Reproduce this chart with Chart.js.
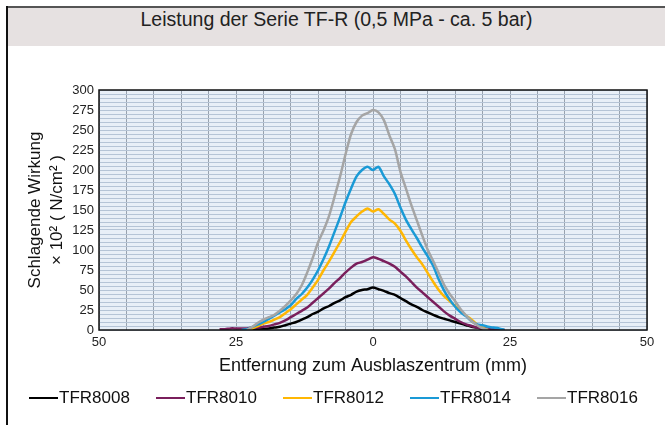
<!DOCTYPE html>
<html>
<head>
<meta charset="utf-8">
<script src="https://cdn.jsdelivr.net/npm/chart.js@4.4.1/dist/chart.umd.min.js"></script>
<style>
  body { margin: 0; background: #fff; }
  #box { position: absolute; left: 0; top: 0; width: 665px; height: 425px; overflow: hidden; }
  #leftLine { position: absolute; left: 6px; top: 6px; width: 2px; height: 419px; background: #111; }
  #topLine { position: absolute; left: 6px; top: 6px; width: 659px; height: 2px; background: #555; }
  #band {
    position: absolute; left: 8px; top: 8px; width: 657px; height: 38px;
    background: #e6e1e1; color: #222; text-align: center; line-height: 38px;
    font: 19.5px "Liberation Sans", Arial, sans-serif;
  }
  #chart { position: absolute; left: 0; top: 0; }
</style>
</head>
<body>
<div id="box">
  <div id="band">Leistung der Serie TF-R (0,5 MPa - ca. 5 bar)</div>
  <div id="topLine"></div>
  <div id="leftLine"></div>
  <canvas id="chart" width="665" height="425"></canvas>
</div>
<script>
// Abstand zum Ausblaszentrum (mm), gemeinsame x-Werte
var distances = [
  -28, -27, -26, -25, -24, -23, -22, -21, -20, -19, -18, -17, -16, -15, -14,
  -13, -12, -11, -10, -9, -8, -7, -6, -5, -4, -3, -2, -1, 0, 1, 2, 3, 4, 5,
  6, 7, 8, 9, 10, 11, 12, 13, 14, 15, 16, 17, 18, 19, 20, 21, 22, 23, 24
];

var seriesNames = ["TFR8008", "TFR8010", "TFR8012", "TFR8014", "TFR8016"];
var seriesColors = ["#000000", "#7a1f5c", "#ffb703", "#1a9ad6", "#a5a5a5"];

var tfr8008 = [
  null, null, null, null, null, null,
  0, 1, 1, 2, 3, 4, 6, 8, 10, 13, 16, 20, 23, 27, 30, 34, 37, 41, 44, 48, 50, 51,
  53, 51, 49, 46, 44, 40, 36, 32, 29, 25, 22, 19, 16, 14, 12, 10, 8, 6, 4, 3, 1, 0,
  null, null, null
];
var tfr8010 = [
  1, 1, 2, 2, 2, 2, 3, 3, 4, 5, 7, 9, 12, 16, 20, 24, 28, 34, 40, 46, 52, 59, 65,
  72, 78, 83, 85, 88, 91, 89, 86, 83, 79, 73, 67, 60, 53, 47, 41, 35, 29, 23, 18,
  14, 10, 7, 5, 3, 2, 2, 1, 1, 0
];
var tfr8012 = [
  null, null, null, null, null,
  0, 2, 5, 8, 10, 13, 16, 21, 26, 32, 38, 44, 53, 63, 75, 86, 98, 110, 123, 135,
  142, 148, 152, 148, 151, 145, 138, 133, 124, 112, 101, 91, 82, 71, 60, 50, 42,
  36, 30, 24, 18, 13, 7, 3, 0,
  null, null, null
];
var tfr8014 = [
  null, null, null, null,
  0, 1, 4, 7, 10, 14, 18, 22, 26, 31, 39, 45, 53, 63, 75, 89, 105, 123, 141, 160,
  177, 192, 200, 204, 200, 204, 192, 182, 170, 153, 138, 126, 115, 103, 92, 80,
  63, 49, 38, 29, 22, 17, 11, 7, 6, 4, 3, 2, 0
];
var tfr8016 = [
  null, null, null, null, null,
  0, 4, 9, 13, 16, 19, 24, 30, 37, 45, 56, 72, 90, 110, 125, 143, 167, 192, 220,
  245, 260, 268, 271, 275, 272, 262, 243, 226, 198, 177, 156, 137, 118, 100, 86,
  71, 56, 45, 36, 26, 18, 11, 6, 2, 0,
  null, null, null
];

var xTickValues = [-50, -25, 0, 25, 50];
var yTickValues = [0, 25, 50, 75, 100, 125, 150, 175, 200, 225, 250, 275, 300];

function toPoints(values) {
  var pts = [];
  for (var i = 0; i < distances.length; i++) {
    if (values[i] !== null) pts.push({ x: distances[i], y: values[i] });
  }
  return pts;
}

var allSeries = [tfr8008, tfr8010, tfr8012, tfr8014, tfr8016];
var datasets = allSeries.map(function (values, i) {
  return {
    label: seriesNames[i],
    data: toPoints(values),
    borderColor: seriesColors[i],
    backgroundColor: seriesColors[i],
    borderWidth: 2.5,
    pointRadius: 0,
    tension: 0.25,
    order: 5 - i
  };
});

// Hintergrund und Rahmen der Zeichenfläche
var plotFrame = {
  id: "plotFrame",
  beforeDraw: function (chart) {
    var a = chart.chartArea;
    var ctx = chart.ctx;
    ctx.save();
    ctx.fillStyle = "#e8eff7";
    ctx.fillRect(a.left, a.top, a.right - a.left, a.bottom - a.top);
    ctx.restore();
  },
  afterDatasetsDraw: function (chart) {
    var a = chart.chartArea;
    var ctx = chart.ctx;
    ctx.save();
    ctx.strokeStyle = "#111";
    ctx.lineWidth = 1.5;
    ctx.strokeRect(a.left, a.top, a.right - a.left, a.bottom - a.top);
    ctx.restore();
  }
};

// Legende in einer Zeile unter der Achse
var legendRow = {
  id: "legendRow",
  afterDraw: function (chart) {
    var ctx = chart.ctx;
    ctx.save();
    ctx.font = '17px "Liberation Sans", Arial, sans-serif';
    ctx.textBaseline = "middle";
    chart.data.datasets.forEach(function (ds, i) {
      var x = 29 + i * 127;
      var y = 398;
      ctx.strokeStyle = ds.borderColor;
      ctx.lineWidth = 2;
      ctx.beginPath();
      ctx.moveTo(x, y);
      ctx.lineTo(x + 29, y);
      ctx.stroke();
      ctx.fillStyle = "#111";
      ctx.fillText(ds.label, x + 30, y);
    });
    ctx.restore();
  }
};

var ctx = document.getElementById("chart").getContext("2d");
new Chart(ctx, {
  type: "line",
  data: { datasets: datasets },
  plugins: [plotFrame, legendRow],
  options: {
    responsive: false,
    animation: false,
    devicePixelRatio: 1,
    layout: { padding: { left: 0, right: 18, top: 90, bottom: 48 } },
    plugins: {
      legend: { display: false },
      tooltip: { enabled: false }
    },
    scales: {
      x: {
        type: "linear",
        min: -50,
        max: 50,
        afterFit: function (scale) {
          scale.height = 47;
        },
        ticks: {
          stepSize: 5,
          autoSkip: false,
          maxRotation: 0,
          padding: 5,
          color: "#222",
          font: { family: "Liberation Sans", size: 13 },
          callback: function (v) {
            return xTickValues.indexOf(v) >= 0 ? String(Math.abs(v)) : "";
          }
        },
        grid: { color: "#98a2ae", lineWidth: 1, drawTicks: false },
        border: { display: false },
        title: {
          display: true,
          text: "Entfernung zum Ausblaszentrum (mm)",
          color: "#111",
          font: { family: "Liberation Sans", size: 18 },
          padding: { top: 0, bottom: 0 }
        }
      },
      y: {
        min: 0,
        max: 300,
        afterFit: function (scale) {
          scale.width = 99;
        },
        ticks: {
          stepSize: 5,
          autoSkip: false,
          padding: 5,
          color: "#222",
          font: { family: "Liberation Sans", size: 13 },
          callback: function (v) {
            return yTickValues.indexOf(v) >= 0 ? String(v) : "";
          }
        },
        grid: { color: "#b5c4d6", lineWidth: 1, drawTicks: false },
        border: { display: false },
        title: {
          display: true,
          text: ["Schlagende Wirkung", "× 10² ( N/cm² )"],
          color: "#111",
          font: { family: "Liberation Sans", size: 17, lineHeight: 1.25 },
          padding: { top: 25, bottom: 0 }
        }
      }
    }
  }
});
</script>
</body>
</html>
